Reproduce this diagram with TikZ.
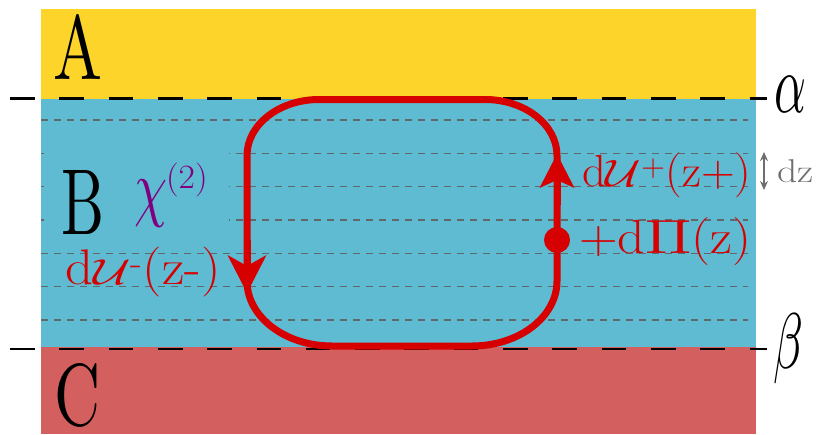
\documentclass[tikz,border=0pt]{standalone}
\usepackage{graphicx}
\usetikzlibrary{arrows.meta}
\definecolor{layA}{RGB}{253,212,42}
\definecolor{layB}{RGB}{94,187,210}
\definecolor{layC}{RGB}{212,95,95}
\definecolor{loopred}{RGB}{214,0,0}
\definecolor{dashgray}{RGB}{96,104,108}
\definecolor{dzgray}{RGB}{110,110,110}
\definecolor{chipurple}{RGB}{128,0,128}
\newcommand{\mathat}[3]{\scalebox{#1}[#2]{\fontsize{10}{12}\selectfont$#3$}}
\tikzset{
  lbl/.style={anchor=base west, inner sep=0pt, outer sep=0pt},
  fineline/.style={draw=dashgray, line width=1.3pt, dash pattern=on 6.5pt off 6.5pt},
  iface/.style={draw=black, line width=2.6pt, dash pattern=on 24.6pt off 24.7pt},
  loopline/.style={draw=loopred, line width=7pt},
}
\begin{document}
\begin{tikzpicture}[x=1pt,y=-1pt]
\useasboundingbox (0,0) rectangle (819,434);
% layers
\fill[layA] (41,9) rectangle (756,98.5);
\fill[layB] (41,98.5) rectangle (756,346.7);
\fill[layC] (41,346.7) rectangle (756,434);
% fine slices
\foreach \yy in {120,153.33,186.67,220,253.33,286.67,320}
  \draw[fineline] (41,\yy) -- (748,\yy);
% mask behind B chi
\fill[layB] (44,143) rectangle (229,231);
% interfaces
\draw[iface] (10,98.5) -- (767,98.5);
\draw[iface] (10,349) -- (767,349);
% loop
\draw[loopline] (247,155.5) .. controls (247,124.6) and (279.3,99.5) .. (319,99.5)
  -- (485,99.5) .. controls (524.7,99.5) and (557,124.6) .. (557,155.5)
  -- (557,281) .. controls (557,316.9) and (519.1,346) .. (472,346)
  -- (332,346) .. controls (285.1,346) and (247,316.9) .. (247,281) -- cycle;
\coordinate (downS) at (247,240);
\coordinate (downE) at (247,293);
\draw[loopline, -{Stealth[length=38pt,width=39pt,inset=11pt,line width=0pt]}] (downS) -- (downE);
\coordinate (upS) at (557,205);
\coordinate (upE) at (557,154);
\draw[loopline, -{Stealth[length=34pt,width=35pt,inset=8pt,line width=0pt]}] (upS) -- (upE);
\node[circle, fill=loopred, minimum size=26pt, inner sep=0pt] (dot) at (557,240) {};
% labels
\node[lbl] (A) at (53,79) {\resizebox{49pt}{65pt}{A}};
\node[lbl] (B) at (61,234) {\resizebox{43pt}{64pt}{B}};
\node[lbl] (C) at (54,425) {\resizebox{46pt}{62pt}{C}};
\node[lbl] (alpha) at (774,112) {\resizebox{32pt}{36pt}{$\alpha$}};
\node[lbl] (beta) at (773,368.7) {\resizebox*{30pt}{70pt}{$\beta$}};
\node[lbl, text=chipurple] (chi) at (134,212) {\resizebox*{33pt}{47pt}{$\chi$}};
\node[lbl, text=chipurple, font=\fontsize{34}{34}\selectfont] (chisup) at (166,188) {\scalebox{1.05}[1]{(2)}};
\node[lbl, text=loopred, font=\fontsize{50}{50}\selectfont] (duminus) at (65,284)
  {\scalebox{1.1}[1]{d\mathat{4.7}{3.6}{\mathcal{U}}\textsuperscript{-}(z-)}};
\node[lbl, text=loopred, font=\fontsize{45}{45}\selectfont] (duplus) at (582,186)
  {\scalebox{1.04}[1]{d\mathat{4.7}{3.8}{\mathcal{U}}\textsuperscript{+}(z+)}};
\node[lbl, text=loopred, font=\fontsize{48}{48}\selectfont] (dPi) at (579,253)
  {\scalebox{1.12}[1]{+d\mathat{5.5}{4.8}{\Pi}(z)}};
\node[lbl, text=dzgray, font=\fontsize{33}{33}\selectfont] (dz) at (777,182) {\scalebox{1.2}[1]{dz}};
\coordinate (dzT) at (764,152);
\coordinate (dzB) at (764,190);
\draw[dzgray, line width=2pt, {Stealth[length=9pt,width=8pt]}-{Stealth[length=9pt,width=8pt]}] (dzT) -- (dzB);
\end{tikzpicture}
\end{document}
